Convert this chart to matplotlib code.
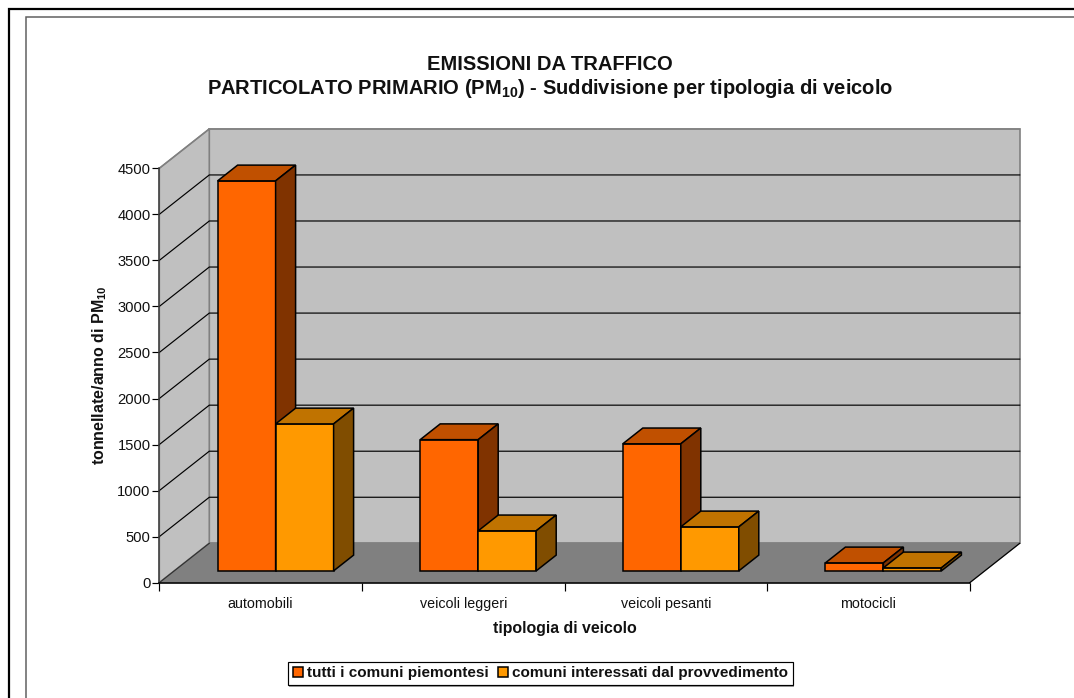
import matplotlib
matplotlib.use("Agg")
import matplotlib.pyplot as plt
from matplotlib.lines import Line2D
from matplotlib.patches import Polygon, Patch, Rectangle

plt.rcParams['font.family'] = ['Liberation Sans', 'DejaVu Sans']
plt.rcParams['mathtext.fontset'] = 'custom'
plt.rcParams['mathtext.bf'] = 'Liberation Sans:bold'
plt.rcParams['mathtext.rm'] = 'Liberation Sans:bold'

categories = ['automobili', 'veicoli leggeri', 'veicoli pesanti', 'motocicli']
tutti = [4235, 1425, 1380, 87]
interessati = [1596, 435, 478, 33]
series_names = ['tutti i comuni piemontesi', 'comuni interessati dal provvedimento']
yticks = list(range(0, 5000, 500))
title = 'EMISSIONI DA TRAFFICO\nPARTICOLATO PRIMARIO (PM$_{\\mathbf{10}}$) - Suddivisione per tipologia di veicolo'

W, H = 1074, 698
fig = plt.figure(figsize=(W / 100, H / 100), dpi=100, facecolor='white')
L, R, T, B = 159.3, 969.7, 168.3, 582.7
ax = fig.add_axes([L / W, 1 - B / H, (R - L) / W, (B - T) / H])
ax.set_xlim(0, 4)
ax.set_ylim(0, 4500)

# oblique projection: depth z in 0..1 shifts a point right and up
DX = 50 / ((R - L) / 4)
DY = 39.4 / ((B - T) / 4500)

def pr(x, y, z):
    return (x + DX * z, y + DY * z)

def face(pts, fc, ec='none', lw=1.0, zo=2):
    ax.add_patch(Polygon([pr(*p) for p in pts], closed=True, facecolor=fc, edgecolor=ec,
                         linewidth=lw, clip_on=False, zorder=zo, joinstyle='miter'))

GREY = '#808080'
WALL = '#c0c0c0'
face([(0, 0, 1), (4, 0, 1), (4, 4500, 1), (0, 4500, 1)], WALL, GREY, 1.2, 1)
face([(0, 0, 0), (0, 0, 1), (0, 4500, 1), (0, 4500, 0)], WALL, GREY, 1.2, 1)
face([(0, 0, 0), (4, 0, 0), (4, 0, 1), (0, 0, 1)], GREY, GREY, 1.0, 1.1)

for v in yticks[1:]:
    xs, ys = zip(pr(0, v, 0), pr(0, v, 1), pr(4, v, 1))
    col = GREY if v == 4500 else 'black'
    ax.plot(xs, ys, color=col, lw=0.85, clip_on=False, zorder=1.5, solid_joinstyle='miter')
xs, ys = zip(pr(4, 0, 0), pr(4, 0, 1))
ax.plot(xs, ys, color='black', lw=0.85, clip_on=False, zorder=1.6)
xs, ys = zip(pr(0, 0, 0), pr(0, 0, 1))
ax.plot(xs, ys, color='#303030', lw=0.85, clip_on=False, zorder=1.6)

BAR = 58 / ((R - L) / 4)
Z0, Z1 = 0.3, 0.7
styles = [('#ff6600', '#c05000', '#803300'), ('#ff9900', '#c07300', '#804d00')]

def bar3d(x0, x1, v, cols, zo):
    front, top, side = cols
    face([(x0, 0, Z0), (x1, 0, Z0), (x1, v, Z0), (x0, v, Z0)], front, 'black', 1.1, zo)
    face([(x0, v, Z0), (x1, v, Z0), (x1, v, Z1), (x0, v, Z1)], top, 'black', 1.1, zo)
    face([(x1, 0, Z0), (x1, 0, Z1), (x1, v, Z1), (x1, v, Z0)], side, 'black', 1.1, zo)

for i in range(len(categories)):
    c = i + 0.5
    bar3d(c - BAR, c, tutti[i], styles[0], 3 + i)
    bar3d(c, c + BAR, interessati[i], styles[1], 3.5 + i)

ax.patch.set_visible(False)
for s in ('top', 'right'):
    ax.spines[s].set_visible(False)
ax.spines['left'].set_color('#404040')
ax.spines['left'].set_linewidth(1.1)
ax.spines['bottom'].set_color('black')
ax.spines['bottom'].set_linewidth(1.1)
ax.spines['left'].set_zorder(10)
ax.spines['bottom'].set_zorder(10)

ax.set_yticks(yticks)
ax.set_yticklabels([str(v) for v in yticks], fontsize=10.6, color='#111111')
ax.tick_params(axis='y', length=5, width=0.85, pad=1.2)
ax.set_xticks(range(5))
ax.set_xticklabels([''] * 5)
ax.tick_params(axis='x', length=5.8, width=0.85)
ax.set_xticks([i + 0.5 for i in range(4)], minor=True)
ax.set_xticklabels(categories, minor=True, fontsize=10.3, color='#111111')
ax.tick_params(axis='x', which='minor', length=0, pad=10)

fig.text(99.5 / W, 1 - 375 / H, 'tonnellate/anno di PM$_{\\mathbf{10}}$', rotation=90, fontsize=11.5,
         fontweight='bold', ha='center', va='center', color='#111111')
fig.text(564.5 / W, 1 - 628 / H, 'tipologia di veicolo', fontsize=11.4, fontweight='bold',
         ha='center', va='center', color='#111111')
fig.text(550 / W, 1 - 77.5 / H, title, fontsize=14.5, fontweight='bold', ha='center', va='center',
         linespacing=1.2, color='#111111')

handles = [Patch(facecolor=styles[k][0], edgecolor='black', linewidth=1.1) for k in range(2)]
leg = fig.legend(handles, series_names, loc='center', bbox_to_anchor=(540.5 / W, 1 - 673.2 / H),
                 ncol=2, prop={'size': 11, 'weight': 'bold'}, frameon=True, fancybox=False,
                 edgecolor='black', framealpha=1, handlelength=0.69, handleheight=0.69,
                 handletextpad=0.25, columnspacing=0.59, borderpad=0.3, borderaxespad=0)
leg.get_frame().set_linewidth(0.85)
for t in leg.get_texts():
    t.set_color('#111111')
fig.add_artist(Rectangle((289 / W, 1 - 686.5 / H), 505 / W, 25 / H, transform=fig.transFigure,
                         facecolor='#a0a0a0', edgecolor='none', zorder=0.5))

fig.add_artist(Line2D([8.5 / W, 8.5 / W, 1], [0, 1 - 9 / H, 1 - 9 / H], transform=fig.transFigure,
                      color='black', lw=1.6, solid_joinstyle='miter'))
fig.add_artist(Line2D([26 / W, 26 / W, 1], [0, 1 - 16.5 / H, 1 - 16.5 / H], transform=fig.transFigure,
                      color='#606060', lw=1.1, solid_joinstyle='miter'))

fig.savefig('out.png', dpi=100)
